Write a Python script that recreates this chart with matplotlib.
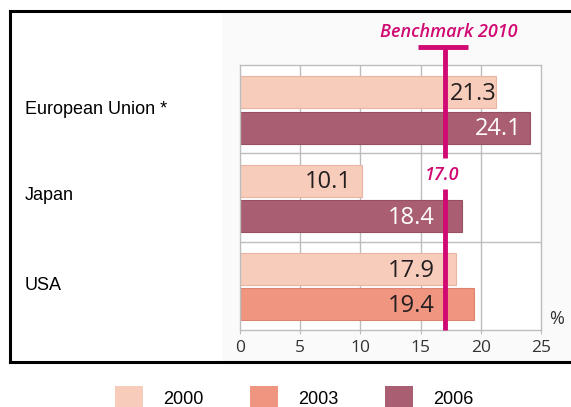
import matplotlib
matplotlib.use("Agg")
import matplotlib.pyplot as plt
from matplotlib.patches import Rectangle
from matplotlib.lines import Line2D

# ---- data ----
regions = ["European Union *", "Japan", "USA"]
first_year = ["2000", "2000", "2000"]
first_vals = [21.3, 10.1, 17.9]
second_year = ["2006", "2006", "2003"]
second_vals = [24.1, 18.4, 19.4]
legend_years = ["2000", "2003", "2006"]
benchmark = 17.0
benchmark_label = "Benchmark 2010"
xticks = [0, 5, 10, 15, 20, 25]

colors = {"2000": "#F8CCBA", "2003": "#F0957F", "2006": "#A95F71"}
edges = {"2000": "#E7B5A2", "2003": "#DD8470", "2006": "#97505F"}
txtcol = {"2000": "#231F20", "2003": "#231F20", "2006": "#FFFFFF"}
magenta = "#D10A73"

W, H = 571, 407
fig = plt.figure(figsize=(W / 100, H / 100), dpi=100)
fig.patch.set_facecolor("white")

def fx(px):
    return px / W

def fy(py):
    return 1 - py / H

# light background of the picture area
fig.patches.append(Rectangle((fx(222), fy(362)), fx(571) - fx(222), fy(12) - fy(362),
                             transform=fig.transFigure, facecolor="#FBFAFA",
                             edgecolor="none", zorder=-5))

ax = fig.add_axes([fx(240), fy(330), fx(541) - fx(240), fy(65) - fy(330)])
ax.set_zorder(1)
ax.set_facecolor("white")
ax.set_xlim(0, 25)
ax.set_ylim(3, 0)

bar_h = 0.36
for i in range(3):
    for off, yr, v in [(0.31, first_year[i], first_vals[i]),
                       (0.71, second_year[i], second_vals[i])]:
        ax.barh(i + off, v, height=bar_h, color=colors[yr], edgecolor=edges[yr],
                linewidth=0.8, zorder=2)
        if benchmark < v < 20:
            xr = benchmark - 0.8
        elif v >= 20:
            xr = max(v - 0.7, benchmark + 4.3)
        else:
            xr = v - 0.8
        ax.text(xr, i + off + 0.02, f"{v:.1f}", ha="right", va="center",
                fontsize=17, family="Open Sans", color=txtcol[yr], zorder=4)

# grid
for x in xticks[1:-1]:
    ax.axvline(x, color="#BDBDBD", lw=1, zorder=1)
for y in [1, 2]:
    ax.axhline(y, color="#BDBDBD", lw=1, zorder=1)
for s in ax.spines.values():
    s.set_color("#BDBDBD")
    s.set_linewidth(1)

ax.set_xticks(xticks)
ax.set_xticklabels([str(t) for t in xticks], family="Open Sans", fontsize=12.5, color="#333333")
ax.tick_params(axis="x", length=3, color="#BDBDBD", pad=4)
ax.set_yticks([])

# benchmark line
ax.plot([benchmark, benchmark], [-0.2, 1.05], color=magenta, lw=3.5, clip_on=False,
        zorder=5, solid_capstyle="butt")
ax.plot([benchmark, benchmark], [1.40, 3.0], color=magenta, lw=3.5, clip_on=False,
        zorder=5, solid_capstyle="butt")
ax.plot([14.8, 18.9], [-0.2, -0.2], color=magenta, lw=3.5, clip_on=False,
        zorder=5, solid_capstyle="butt")
ax.text(16.75, 1.24, f"{benchmark:.1f}", ha="center", va="center", color=magenta,
        fontsize=13, family="Open Sans", style="italic", fontweight="semibold")
ax.text(17.3, -0.37, benchmark_label, ha="center", va="center", color=magenta,
        fontsize=13, family="Open Sans", style="italic", fontweight="semibold",
        clip_on=False)
ax.text(26.3, 2.88, "%", ha="center", va="center", fontsize=13, family="Open Sans",
        color="#333333", clip_on=False)

# region labels
label_y = [110, 196, 285]
for name, py in zip(regions, label_y):
    fig.text(fx(25), fy(py), name, ha="left", va="center", fontsize=13,
             family="Liberation Sans", color="black")

# frame
lw = 2.2
fig.lines.append(Line2D([fx(10), fx(571)], [fy(11), fy(11)], transform=fig.transFigure,
                        color="black", lw=lw))
fig.lines.append(Line2D([fx(10), fx(10)], [fy(11), fy(362)], transform=fig.transFigure,
                        color="black", lw=lw))
fig.lines.append(Line2D([fx(10), fx(219)], [fy(362), fy(362)], transform=fig.transFigure,
                        color="black", lw=lw))
fig.lines.append(Line2D([fx(222), fx(571)], [fy(362), fy(362)], transform=fig.transFigure,
                        color="black", lw=lw))

# legend
sq_x = [115, 250, 385]
for yr, px in zip(legend_years, sq_x):
    fig.patches.append(Rectangle((fx(px), fy(409)), fx(28), fy(386) - fy(409),
                                 transform=fig.transFigure, facecolor=colors[yr],
                                 edgecolor="none"))
    fig.text(fx(px + 48), fy(399), yr, ha="left", va="center", fontsize=13,
             family="Liberation Sans", color="black")

fig.savefig("out.png", dpi=100)
